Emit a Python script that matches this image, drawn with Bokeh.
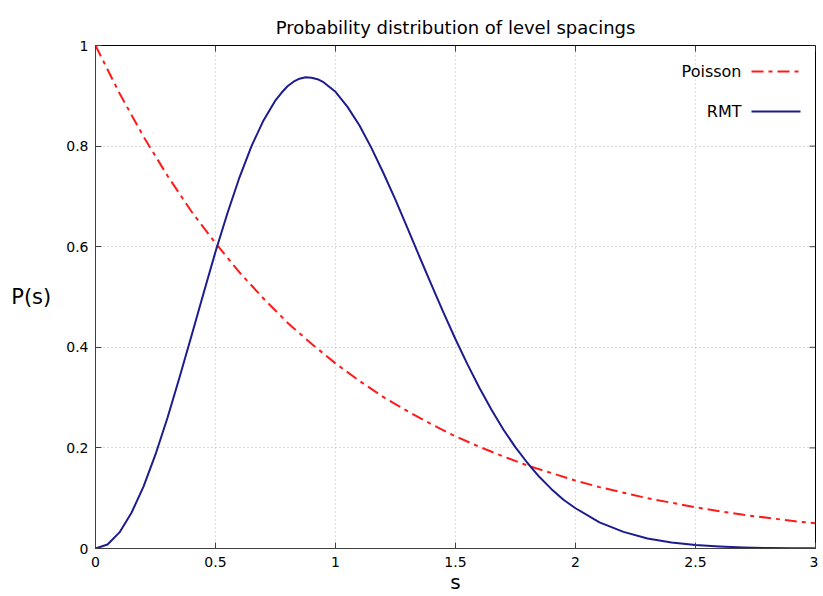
from bokeh.plotting import figure
from bokeh.models import LinearAxis, FixedTicker, Label, Range1d, Arrow, ColumnDataSource
from bokeh.embed import file_html
from bokeh.resources import INLINE

# --- data ---
s_rmt = [0.0, 0.05, 0.1, 0.15, 0.2, 0.25, 0.3, 0.35, 0.4, 0.45, 0.5, 0.55, 0.6, 0.65,
         0.7, 0.75, 0.775, 0.8, 0.825, 0.85, 0.875, 0.9, 0.925, 0.95, 1.0, 1.05, 1.1,
         1.15, 1.2, 1.25, 1.3, 1.35, 1.4, 1.45, 1.5, 1.55, 1.6, 1.65, 1.7, 1.75, 1.8,
         1.85, 1.9, 1.95, 2.0, 2.1, 2.2, 2.3, 2.4, 2.5, 2.6, 2.7, 2.8, 2.9, 3.0]
p_rmt = [0.0, 0.008, 0.032, 0.071, 0.123, 0.187, 0.260, 0.340, 0.423, 0.507, 0.590,
         0.667, 0.738, 0.800, 0.851, 0.891, 0.906, 0.919, 0.928, 0.934, 0.937, 0.936,
         0.933, 0.927, 0.908, 0.878, 0.841, 0.796, 0.746, 0.693, 0.637, 0.580, 0.524,
         0.469, 0.416, 0.366, 0.319, 0.276, 0.236, 0.201, 0.170, 0.142, 0.118, 0.097,
         0.080, 0.052, 0.033, 0.020, 0.012, 0.007, 0.004, 0.002, 0.001, 0.0006, 0.0003]

s_poisson = [0.0, 0.1, 0.2, 0.3, 0.4, 0.5, 0.6, 0.7, 0.8, 0.9, 1.0, 1.1, 1.2, 1.3, 1.4,
             1.5, 1.6, 1.7, 1.8, 1.9, 2.0, 2.1, 2.2, 2.3, 2.4, 2.5, 2.6, 2.7, 2.8, 2.9, 3.0]
p_poisson = [1.0, 0.905, 0.819, 0.741, 0.670, 0.607, 0.549, 0.497, 0.449, 0.407, 0.368,
             0.333, 0.301, 0.273, 0.247, 0.223, 0.202, 0.183, 0.165, 0.150, 0.135, 0.122,
             0.111, 0.100, 0.091, 0.082, 0.074, 0.067, 0.061, 0.055, 0.050]

x_ticks = [0, 0.5, 1, 1.5, 2, 2.5, 3]
x_tick_labels = ["0", "0.5", "1", "1.5", "2", "2.5", "3"]
y_ticks = [0, 0.2, 0.4, 0.6, 0.8, 1]
y_tick_labels = ["0", "0.2", "0.4", "0.6", "0.8", "1"]

title_text = "Probability distribution of level spacings"
x_label = "s"
y_label = "P(s)"
series_names = ["Poisson", "RMT"]

X_MIN, X_MAX = 0, 3
Y_MIN, Y_MAX = 0, 1

FONT = "DejaVu Sans"
RED = "#ff1a1a"
BLUE = "#1c1c8e"
POI_DASH = "12 5 4 5"

W, H = 818, 596
BL, BR, BT, BB = 95, 3, 45, 48
frame_w = W - BL - BR
frame_h = H - BT - BB
px_x = (X_MAX - X_MIN) / frame_w   # data units per pixel
px_y = (Y_MAX - Y_MIN) / frame_h

p = figure(width=W, height=H, x_range=Range1d(X_MIN, X_MAX), y_range=Range1d(Y_MIN, Y_MAX),
           output_backend="svg", toolbar_location=None,
           min_border_left=BL, min_border_right=BR, min_border_top=BT, min_border_bottom=BB,
           x_axis_location=None, y_axis_location=None)

p.title.text = title_text
p.title.align = "center"
p.title.text_font = FONT
p.title.text_font_size = "18px"
p.title.text_font_style = "normal"
p.title.text_color = "#000000"
p.title.standoff = 16

p.outline_line_color = "#000000"
p.outline_line_width = 1
p.background_fill_color = "white"
p.border_fill_color = "white"

def style_axis(ax, ticks, labels, standoff):
    ax.ticker = FixedTicker(ticks=ticks)
    ax.major_label_overrides = {t: l for t, l in zip(ticks, labels)}
    ax.major_tick_in = 6
    ax.major_tick_out = 0
    ax.minor_tick_line_color = None
    ax.axis_line_color = "#404040"
    ax.major_tick_line_color = "#404040"
    ax.major_label_text_font = FONT
    ax.major_label_text_color = "#000000"
    ax.major_label_text_font_size = "14px"
    ax.major_label_standoff = standoff
    ax.axis_label_text_font = FONT
    ax.axis_label_text_font_style = "normal"
    ax.axis_label_text_color = "#000000"

xb = LinearAxis()
style_axis(xb, x_ticks, x_tick_labels, 8)
xb.axis_label = x_label
xb.axis_label_text_font_size = "20px"
xb.axis_label_standoff = 0
p.add_layout(xb, "below")

yl = LinearAxis()
style_axis(yl, y_ticks, y_tick_labels, 7)
yl.axis_label = y_label
yl.axis_label_text_font_size = "21px"
yl.axis_label_standoff = 12
yl.axis_label_orientation = "horizontal"
p.add_layout(yl, "left")

# mirrored inward ticks on top and right borders
tick_len = 6
top_src = ColumnDataSource(dict(x0=x_ticks, y0=[Y_MAX] * len(x_ticks),
                                y1=[Y_MAX - tick_len * px_y] * len(x_ticks)))
p.segment(x0="x0", y0="y0", x1="x0", y1="y1", source=top_src, line_color="#404040", line_width=1)
right_src = ColumnDataSource(dict(y0=y_ticks, x0=[X_MAX] * len(y_ticks),
                                  x1=[X_MAX - tick_len * px_x] * len(y_ticks)))
p.segment(x0="x0", y0="y0", x1="x1", y1="y0", source=right_src, line_color="#404040", line_width=1)

p.xgrid.ticker = FixedTicker(ticks=x_ticks)
p.ygrid.ticker = FixedTicker(ticks=y_ticks)
for g in (p.xgrid, p.ygrid):
    g.grid_line_color = "#b8b8b8"
    g.grid_line_dash = "1 3"
    g.grid_line_width = 1

r_poi = p.line(s_poisson, p_poisson, line_color=RED, line_width=2, line_dash=POI_DASH)
r_rmt = p.line(s_rmt, p_rmt, line_color=BLUE, line_width=2, line_join="round")

# legend (text to the left of the line sample, as in the reference)
leg_text_right = X_MAX - 74 * px_x
leg_line_x0 = X_MAX - 64 * px_x
leg_line_x1 = X_MAX - 15 * px_x
leg_rows = [Y_MAX - 26 * px_y, Y_MAX - 66 * px_y]
leg_styles = [dict(line_color=RED, line_dash=POI_DASH), dict(line_color=BLUE)]
for name, yrow, st in zip(series_names, leg_rows, leg_styles):
    p.add_layout(Label(x=leg_text_right, y=yrow, text=name, text_font=FONT, text_font_size="16px",
                       text_baseline="middle", text_align="right", text_color="#000000"))
    p.add_layout(Arrow(start=None, end=None, x_start=leg_line_x0, y_start=yrow,
                       x_end=leg_line_x1, y_end=yrow, line_width=2, **st))

open("out.html", "w").write(file_html(p, INLINE))
